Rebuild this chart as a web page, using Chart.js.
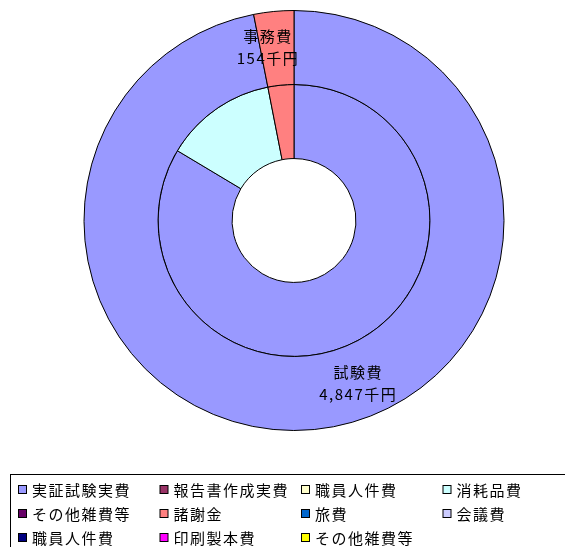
<!DOCTYPE html>
<html>
<head>
<meta charset="utf-8">
<script src="https://cdn.jsdelivr.net/npm/chart.js@4.4.1/dist/chart.umd.min.js"></script>
<style>
  html, body { margin: 0; padding: 0; background: #fff; }
  canvas { display: block; }
</style>
</head>
<body>
<canvas id="cost" width="565" height="547"></canvas>
<script>
// Double doughnut: outer ring = cost group (千円), inner ring = detail items

const OUTER_LABELS = ['試験費', '事務費'];
const OUTER_VALUES = [4847, 154];
const OUTER_COLORS = ['#9999FF', '#FF8080'];

const INNER_LABELS = ['実証試験実費', '報告書作成実費', '職員人件費', '消耗品費', 'その他雑費等',
                      '諸謝金', '旅費', '会議費', '職員人件費', '印刷製本費', 'その他雑費等'];
const INNER_VALUES = [4180, 0, 0, 667, 0, 154, 0, 0, 0, 0, 0];
const INNER_COLORS = ['#9999FF', '#993366', '#FFFFCC', '#CCFFFF', '#660066',
                      '#FF8080', '#0066CC', '#CCCCFF', '#000080', '#FF00FF', '#FFFF00'];

const FONT = '"Noto Sans CJK JP", "Noto Sans", sans-serif';

// label angle nudges (degrees) for the outer ring, Excel-like placement
const LABEL_SHIFT = [-16, -3];

const ringLabels = {
  id: 'ringLabels',
  afterDatasetsDraw(chart) {
    const ctx = chart.ctx;
    const meta = chart.getDatasetMeta(0);
    ctx.save();
    ctx.fillStyle = '#000';
    ctx.font = '15px ' + FONT;
    ctx.letterSpacing = '1.5px';
    ctx.textAlign = 'center';
    ctx.textBaseline = 'middle';
    meta.data.forEach((arc, i) => {
      const p = arc.getProps(['x', 'y', 'startAngle', 'endAngle', 'innerRadius', 'outerRadius'], true);
      const a = (p.startAngle + p.endAngle) / 2 + LABEL_SHIFT[i] * Math.PI / 180;
      const r = (p.innerRadius + p.outerRadius) / 2 + 2;
      const x = p.x + Math.cos(a) * r;
      const y = p.y + Math.sin(a) * r;
      ctx.fillText(OUTER_LABELS[i], x, y - 11);
      ctx.fillText(OUTER_VALUES[i].toLocaleString('en-US') + '千円', x, y + 11);
    });
    ctx.restore();
  }
};

const boxLegend = {
  id: 'boxLegend',
  afterDraw(chart) {
    const ctx = chart.ctx;
    const left = 10, top = 474;
    const colW = 141.5, rowH = 24;
    ctx.save();
    ctx.strokeStyle = '#000';
    ctx.lineWidth = 1;
    ctx.strokeRect(left + 0.5, top + 0.5, chart.width, 120);
    ctx.font = '15px ' + FONT;
    ctx.letterSpacing = '1.5px';
    ctx.textBaseline = 'middle';
    ctx.textAlign = 'left';
    INNER_LABELS.forEach((lab, i) => {
      const col = i % 4, row = Math.floor(i / 4);
      const x = left + 8 + col * colW;
      const y = top + 16 + row * rowH;
      ctx.fillStyle = INNER_COLORS[i];
      ctx.fillRect(x + 0.5, y - 4.5, 8, 8);
      ctx.strokeStyle = '#000';
      ctx.strokeRect(x + 0.5, y - 4.5, 8, 8);
      ctx.fillStyle = '#000';
      ctx.fillText(lab, x + 14, y);
    });
    ctx.restore();
  }
};

new Chart(document.getElementById('cost'), {
  type: 'doughnut',
  data: {
    labels: INNER_LABELS,
    datasets: [
      { label: '費目', data: OUTER_VALUES, backgroundColor: OUTER_COLORS },
      { label: '内訳', data: INNER_VALUES, backgroundColor: INNER_COLORS }
    ]
  },
  options: {
    responsive: false,
    animation: false,
    cutout: '29.5%',
    layout: { padding: { top: 10, bottom: 116, left: 23, right: 0 } },
    elements: {
      arc: { borderColor: '#000', borderWidth: 1, hoverBorderWidth: 1, hoverOffset: 0 }
    },
    plugins: {
      legend: { display: false },
      tooltip: { enabled: false }
    }
  },
  plugins: [ringLabels, boxLegend]
});
</script>
</body>
</html>
